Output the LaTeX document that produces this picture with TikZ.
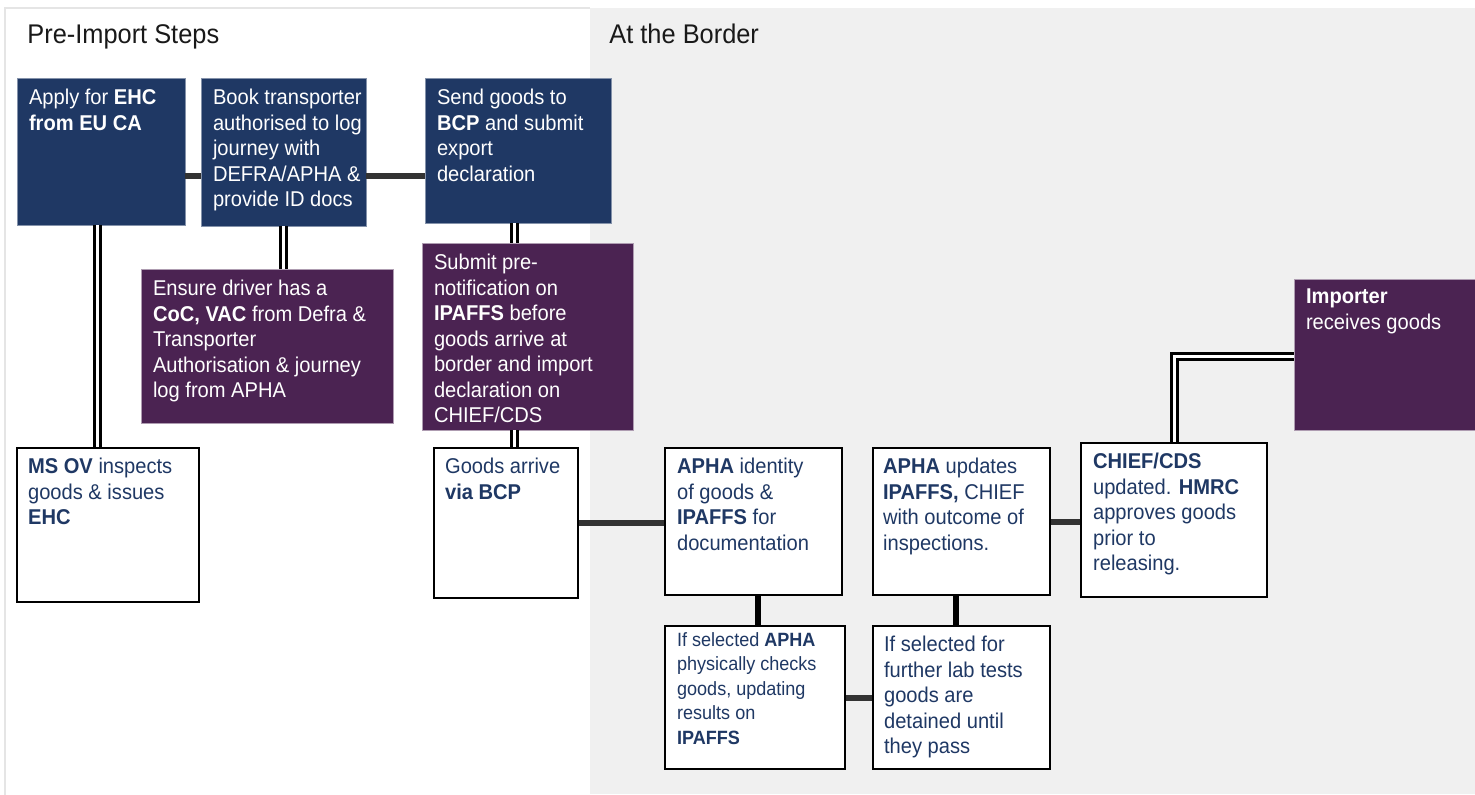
\documentclass[tikz,border=0pt]{standalone}
\usepackage{fontspec}
\setmainfont{Liberation Sans}[FakeStretch=0.94]
\usetikzlibrary{fit}

\definecolor{azul}{RGB}{31,56,100}
\definecolor{morado}{RGB}{75,35,82}
\definecolor{fondo}{RGB}{240,240,240}
\definecolor{grisoscuro}{RGB}{51,51,51}

\begin{document}
\begin{tikzpicture}[x=0.5pt, y=-0.5pt,
  azulbox/.style={fill=azul, draw=azul!55!white, line width=0.4pt, inner sep=0pt},
  moradobox/.style={fill=morado, draw=morado!45!white, line width=0.4pt, inner sep=0pt},
  blancobox/.style={fill=white, draw=black, line width=1.3pt, inner sep=0pt},
  texto/.style={anchor=north west, inner sep=0pt, align=left, font=\fontsize{10.7}{12.75}\selectfont},
  claro/.style={texto, text=white},
  oscuro/.style={texto, text=azul},
  titulo/.style={anchor=base west, inner sep=0pt, text=black!90, font=\fontsize{13.5}{15}\selectfont},
  barra/.style={grisoscuro, line width=3pt},
  vertical/.style={black, line width=3pt},
  doble/.style={draw=black, double=white, line width=1.5pt, double distance=1.5pt}]
  % Fondo
  \useasboundingbox (0,0) rectangle (1475,794);
  \fill[white] (0,0) rectangle (1475,794);
  \draw[black!10, line width=0.8pt] (5,800) -- (5,8) -- (590,8);
  \fill[fondo] (590,8) rectangle (1475,794);

  % Titulos
  \node[titulo] (tpre) at (27,43) {Pre-Import Steps};
  \node[titulo] (tborde) at (609,43) {At the Border};

  % Pasos previos
  \node[azulbox, fit={(17,78) (185,225)}] (ehc) {};
  \node[claro] (ehc-t) at ([shift={(6pt,-5.5pt)}]ehc.north west)
    {Apply for \textbf{EHC}\\\textbf{from EU CA}};
  \node[azulbox, fit={(201,78) (366,226)}] (book) {};
  \node[claro] (book-t) at ([shift={(6pt,-5.5pt)}]book.north west)
    {Book transporter\\authorised to log\\journey with\\DEFRA/APHA \&\\provide ID docs};
  \node[azulbox, fit={(425,78) (611,223)}] (send) {};
  \node[claro] (send-t) at ([shift={(6pt,-5.5pt)}]send.north west)
    {Send goods to\\\textbf{BCP} and submit\\export\\declaration};
  \node[moradobox, fit={(141,269) (393,423)}] (driver) {};
  \node[claro] (driver-t) at ([shift={(6pt,-5.5pt)}]driver.north west)
    {Ensure driver has a\\\textbf{CoC, VAC} from Defra \&\\Transporter\\Authorisation \& journey\\log from APHA};
  \node[moradobox, fit={(422,243) (633,430)}] (prenote) {};
  \node[claro] (prenote-t) at ([shift={(6pt,-5.5pt)}]prenote.north west)
    {Submit pre-\\notification on\\\textbf{IPAFFS} before\\goods arrive at\\border and import\\declaration on\\CHIEF/CDS};
  \node[blancobox, fit={(17,448) (199,602)}] (msov) {};
  \node[oscuro] (msov-t) at ([shift={(6pt,-5.5pt)}]msov.north west)
    {\textbf{MS OV} inspects\\goods \& issues\\\textbf{EHC}};

  % En la frontera
  \node[blancobox, fit={(434,448) (578,598)}] (arrive) {};
  \node[oscuro] (arrive-t) at ([shift={(6pt,-5.5pt)}]arrive.north west)
    {Goods arrive\\\textbf{via BCP}};
  \node[blancobox, fit={(665,448) (842,595)}] (ident) {};
  \node[oscuro] (ident-t) at ([shift={(6.5pt,-5.5pt)}]ident.north west)
    {\textbf{APHA} identity\\of goods \&\\\textbf{IPAFFS} for\\documentation};
  \node[blancobox, fit={(873,448) (1050,595)}] (upd) {};
  \node[oscuro] (upd-t) at ([shift={(5.5pt,-5.5pt)}]upd.north west)
    {\textbf{APHA} updates\\\textbf{IPAFFS,} CHIEF\\with outcome of\\inspections.};
  \node[blancobox, fit={(1081,443) (1267,597)}] (chief) {};
  \node[oscuro] (chief-t) at ([shift={(6.5pt,-5.5pt)}]chief.north west)
    {\textbf{CHIEF/CDS}\\updated. \textbf{HMRC}\\approves goods\\prior to\\releasing.};
  \node[blancobox, fit={(665,626) (845,769)}] (phys) {};
  \node[oscuro, font=\fontsize{9.6}{12.3}\selectfont] (phys-t) at ([shift={(6.5pt,-3.5pt)}]phys.north west)
    {If selected \textbf{APHA}\\physically checks\\goods, updating\\results on\\\textbf{IPAFFS}};
  \node[blancobox, fit={(873,626) (1050,769)}] (lab) {};
  \node[oscuro] (lab-t) at ([shift={(6pt,-5.5pt)}]lab.north west)
    {If selected for\\further lab tests\\goods are\\detained until\\they pass};
  \node[moradobox, fit={(1294,279) (1475,430)}] (importer) {};
  \node[claro] (importer-t) at ([shift={(6pt,-5pt)}]importer.north west)
    {\textbf{Importer}\\receives goods};

  % Conectores
  \draw[barra] ([yshift=-12pt]ehc.east) -- ([yshift=-12pt]ehc.east -| book.west);
  \draw[barra] ([yshift=-12pt]book.east) -- ([yshift=-12pt]book.east -| send.west);
  \draw[doble] ([xshift=-2pt]ehc.south) -- ([xshift=-2pt]ehc.south |- msov.north);
  \draw[doble] (book.south) -- (book.south |- driver.north);
  \draw[doble] ([xshift=-2pt]send.south) -- ([xshift=-2pt]send.south |- prenote.north);
  \draw[doble] ([xshift=-2pt]send.south |- prenote.south) -- ([xshift=-2pt]send.south |- arrive.north);
  \draw[barra] (arrive.east) -- (arrive.east -| ident.west);
  \draw[vertical] ([xshift=2pt]ident.south) -- ([xshift=2pt]ident.south |- phys.north);
  \draw[barra] (phys.east) -- (phys.east -| lab.west);
  \draw[vertical] ([xshift=-3pt]upd.south) -- ([xshift=-3pt]upd.south |- lab.north);
  \draw[barra] (upd.east) -- (upd.east -| chief.west);
  \draw[doble] (chief.north) |- ([yshift=-1pt]importer.west);
\end{tikzpicture}
\end{document}
